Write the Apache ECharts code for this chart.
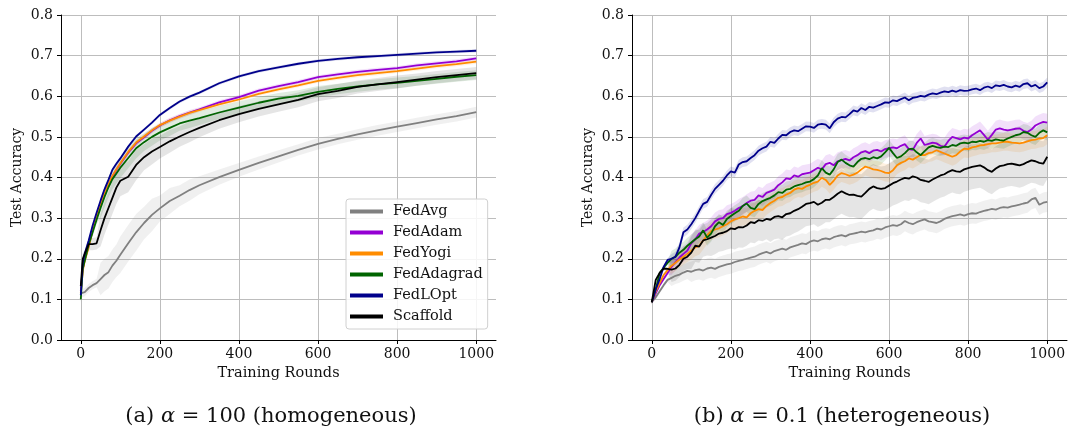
<!DOCTYPE html>
<html><head><meta charset="utf-8">
<script src="https://cdn.jsdelivr.net/npm/echarts@6/dist/echarts.min.js"></script>
<style>html,body{margin:0;padding:0;background:#fff}#c{width:1069px;height:433px}</style>
</head><body><div id="c"></div>
<script>
// ---------- DATA ----------
const names = ['FedAvg','FedAdam','FedYogi','FedAdagrad','FedLOpt','Scaffold'];
const colors = ['#808080','#9400d3','#ff8c00','#006400','#00008b','#000000'];
const xTicks = [0,200,400,600,800,1000];
const yTicks = [0,0.1,0.2,0.3,0.4,0.5,0.6,0.7,0.8];

// (a) alpha = 100
const roundsA = [0,5,10,20,30,40,50,60,70,80,90,100,120,140,160,180,200,225,250,275,300,350,400,450,500,550,600,650,700,750,800,850,900,950,1000];
const A_FedAvg = [0.115,0.116,0.118,0.128,0.135,0.140,0.150,0.160,0.167,0.183,0.195,0.210,0.238,0.265,0.288,0.308,0.324,0.342,0.355,0.369,0.381,0.401,0.419,0.436,0.452,0.468,0.483,0.495,0.506,0.516,0.525,0.534,0.543,0.551,0.561];
const A_FedAdam = [0.120,0.175,0.198,0.232,0.272,0.306,0.333,0.358,0.381,0.402,0.419,0.434,0.461,0.484,0.499,0.515,0.528,0.541,0.551,0.560,0.568,0.585,0.598,0.614,0.625,0.635,0.647,0.654,0.660,0.665,0.669,0.676,0.681,0.686,0.693];
const A_FedYogi = [0.115,0.170,0.195,0.228,0.270,0.305,0.334,0.360,0.383,0.404,0.420,0.435,0.463,0.486,0.501,0.516,0.529,0.540,0.550,0.559,0.566,0.580,0.592,0.606,0.617,0.627,0.638,0.645,0.652,0.657,0.662,0.668,0.674,0.679,0.685];
const A_FedAdagrad = [0.100,0.175,0.195,0.235,0.265,0.296,0.325,0.352,0.376,0.396,0.410,0.424,0.448,0.472,0.487,0.500,0.511,0.522,0.533,0.540,0.546,0.560,0.572,0.584,0.594,0.601,0.611,0.618,0.624,0.629,0.633,0.638,0.643,0.648,0.652];
const A_FedLOpt = [0.110,0.190,0.213,0.245,0.282,0.313,0.343,0.371,0.394,0.419,0.434,0.447,0.476,0.501,0.518,0.535,0.554,0.571,0.587,0.599,0.609,0.632,0.649,0.662,0.671,0.680,0.687,0.692,0.696,0.699,0.702,0.705,0.708,0.710,0.712];
const A_Scaffold = [0.133,0.200,0.203,0.236,0.236,0.238,0.270,0.300,0.325,0.350,0.375,0.392,0.402,0.431,0.450,0.464,0.475,0.489,0.501,0.512,0.522,0.541,0.556,0.569,0.580,0.591,0.605,0.613,0.623,0.629,0.635,0.641,0.647,0.652,0.657];

// half-width of shaded band, one value per 50-round block (0,50,...,1000)
const SA_FedAvg = [0.010,0.040,0.045,0.040,0.032,0.026,0.022,0.019,0.017,0.016,0.015,0.014,0.014,0.013,0.013,0.013,0.013,0.013,0.013,0.013,0.013];
const SA_FedAdam = [0.008,0.008,0.007,0.006,0.006,0.006,0.005,0.005,0.005,0.005,0.005,0.005,0.005,0.005,0.005,0.005,0.005,0.005,0.005,0.005,0.005];
const SA_FedYogi = [0.008,0.008,0.007,0.006,0.006,0.006,0.005,0.005,0.005,0.005,0.005,0.005,0.005,0.005,0.005,0.005,0.005,0.005,0.005,0.005,0.005];
const SA_FedAdagrad = [0.010,0.025,0.025,0.022,0.020,0.018,0.017,0.016,0.015,0.015,0.014,0.014,0.014,0.013,0.013,0.013,0.013,0.012,0.012,0.012,0.012];
const SA_FedLOpt = [0.005,0.005,0.004,0.004,0.004,0.004,0.004,0.004,0.004,0.004,0.004,0.004,0.004,0.004,0.004,0.004,0.004,0.004,0.004,0.004,0.004];
const SA_Scaffold = [0.015,0.040,0.038,0.032,0.028,0.025,0.023,0.021,0.020,0.019,0.018,0.018,0.017,0.017,0.016,0.016,0.016,0.015,0.015,0.015,0.015];

// (b) alpha = 0.1, every 10 rounds
const roundsB = []; for (let r = 0; r <= 1000; r += 10) roundsB.push(r);
const B_FedAvg = [0.094,0.105,0.120,0.135,0.148,0.153,0.158,0.161,0.166,0.170,
 0.168,0.172,0.174,0.171,0.176,0.178,0.175,0.180,0.183,0.186,
 0.188,0.192,0.195,0.197,0.200,0.203,0.205,0.210,0.214,0.217,
 0.213,0.219,0.222,0.225,0.222,0.228,0.231,0.234,0.238,0.236,
 0.242,0.245,0.243,0.248,0.250,0.248,0.253,0.256,0.258,0.255,
 0.260,0.262,0.264,0.267,0.265,0.268,0.270,0.274,0.272,0.277,
 0.280,0.283,0.281,0.285,0.293,0.288,0.285,0.290,0.294,0.297,
 0.292,0.290,0.288,0.292,0.298,0.302,0.305,0.307,0.309,0.306,
 0.310,0.312,0.311,0.315,0.318,0.320,0.323,0.321,0.325,0.327,
 0.326,0.329,0.331,0.333,0.336,0.338,0.346,0.350,0.333,0.338,
 0.340];
const B_FedAdam = [0.093,0.115,0.135,0.150,0.165,0.180,0.192,0.203,0.212,0.220,
 0.238,0.248,0.262,0.266,0.272,0.280,0.292,0.298,0.300,0.310,
 0.313,0.318,0.325,0.330,0.337,0.343,0.345,0.356,0.352,0.362,
 0.366,0.370,0.381,0.388,0.398,0.396,0.405,0.402,0.408,0.410,
 0.412,0.418,0.424,0.420,0.433,0.436,0.430,0.440,0.443,0.446,
 0.442,0.450,0.455,0.462,0.465,0.460,0.466,0.468,0.464,0.470,
 0.472,0.474,0.472,0.478,0.482,0.470,0.468,0.485,0.496,0.480,
 0.483,0.486,0.484,0.478,0.476,0.490,0.500,0.497,0.494,0.498,
 0.496,0.504,0.510,0.516,0.505,0.493,0.505,0.518,0.521,0.518,
 0.516,0.518,0.520,0.521,0.515,0.512,0.518,0.528,0.533,0.537,
 0.535];
const B_FedYogi = [0.093,0.120,0.140,0.160,0.172,0.183,0.190,0.198,0.205,0.212,
 0.220,0.228,0.232,0.245,0.258,0.268,0.272,0.275,0.280,0.285,
 0.292,0.297,0.300,0.304,0.302,0.312,0.318,0.322,0.320,0.330,
 0.337,0.343,0.350,0.352,0.358,0.362,0.370,0.374,0.372,0.378,
 0.382,0.387,0.390,0.399,0.394,0.382,0.392,0.405,0.411,0.408,
 0.404,0.407,0.412,0.420,0.427,0.424,0.420,0.419,0.416,0.412,
 0.411,0.418,0.430,0.436,0.440,0.447,0.444,0.450,0.456,0.455,
 0.460,0.462,0.467,0.463,0.459,0.455,0.451,0.455,0.464,0.471,
 0.470,0.474,0.476,0.479,0.480,0.482,0.484,0.484,0.486,0.488,
 0.488,0.486,0.485,0.484,0.486,0.489,0.492,0.493,0.496,0.497,
 0.504];
const B_FedAdagrad = [0.093,0.125,0.165,0.178,0.190,0.200,0.205,0.215,0.222,0.232,
 0.240,0.248,0.255,0.270,0.252,0.262,0.280,0.290,0.283,0.298,
 0.305,0.312,0.318,0.330,0.336,0.325,0.322,0.335,0.342,0.346,
 0.350,0.356,0.364,0.362,0.370,0.372,0.378,0.381,0.384,0.388,
 0.390,0.396,0.405,0.423,0.412,0.407,0.420,0.438,0.444,0.436,
 0.430,0.427,0.438,0.446,0.448,0.445,0.450,0.447,0.452,0.462,
 0.473,0.460,0.448,0.452,0.460,0.470,0.471,0.462,0.455,0.465,
 0.474,0.478,0.475,0.473,0.476,0.475,0.480,0.478,0.484,0.486,
 0.484,0.488,0.487,0.490,0.488,0.492,0.490,0.494,0.492,0.491,
 0.496,0.500,0.504,0.506,0.512,0.510,0.504,0.500,0.510,0.516,
 0.511];
const B_FedLOpt = [0.093,0.125,0.150,0.180,0.197,0.200,0.205,0.228,0.265,0.272,
 0.285,0.300,0.318,0.335,0.340,0.357,0.372,0.382,0.392,0.405,
 0.415,0.412,0.432,0.438,0.440,0.448,0.455,0.466,0.472,0.476,
 0.488,0.485,0.496,0.505,0.504,0.512,0.516,0.514,0.520,0.526,
 0.525,0.522,0.530,0.532,0.530,0.521,0.536,0.545,0.549,0.548,
 0.556,0.565,0.562,0.571,0.566,0.574,0.572,0.576,0.580,0.585,
 0.584,0.590,0.588,0.593,0.597,0.590,0.596,0.598,0.601,0.599,
 0.604,0.607,0.605,0.609,0.612,0.610,0.614,0.611,0.615,0.613,
 0.614,0.617,0.619,0.615,0.621,0.624,0.620,0.627,0.625,0.628,
 0.624,0.622,0.626,0.623,0.630,0.632,0.624,0.628,0.620,0.624,
 0.634];
const B_Scaffold = [0.093,0.148,0.165,0.176,0.175,0.173,0.176,0.185,0.200,0.205,
 0.215,0.232,0.230,0.245,0.248,0.252,0.256,0.262,0.264,0.268,
 0.275,0.273,0.278,0.277,0.282,0.290,0.288,0.295,0.293,0.298,
 0.296,0.303,0.305,0.302,0.310,0.312,0.318,0.322,0.328,0.335,
 0.337,0.340,0.333,0.338,0.345,0.345,0.352,0.360,0.366,0.361,
 0.357,0.358,0.355,0.353,0.362,0.372,0.378,0.374,0.372,0.374,
 0.380,0.386,0.390,0.395,0.399,0.397,0.403,0.400,0.394,0.392,
 0.389,0.395,0.400,0.405,0.408,0.414,0.418,0.415,0.414,0.420,
 0.423,0.426,0.428,0.430,0.425,0.418,0.414,0.422,0.428,0.430,
 0.433,0.434,0.432,0.430,0.433,0.438,0.442,0.440,0.436,0.434,
 0.451];

const SB_FedAvg = [0.005,0.020,0.025,0.025,0.025,0.025,0.025,0.025,0.025,0.025,0.025,0.025,0.025,0.025,0.025,0.025,0.025,0.025,0.025,0.025,0.025];
const SB_FedAdam = [0.005,0.020,0.022,0.022,0.022,0.022,0.022,0.022,0.022,0.022,0.022,0.022,0.022,0.022,0.022,0.022,0.022,0.022,0.022,0.022,0.022];
const SB_FedYogi = [0.005,0.020,0.022,0.022,0.022,0.022,0.022,0.022,0.022,0.022,0.022,0.022,0.022,0.022,0.022,0.022,0.022,0.022,0.022,0.022,0.022];
const SB_FedAdagrad = [0.005,0.020,0.020,0.020,0.020,0.020,0.020,0.020,0.020,0.020,0.020,0.020,0.020,0.020,0.020,0.020,0.020,0.020,0.020,0.020,0.020];
const SB_FedLOpt = [0.005,0.012,0.012,0.012,0.012,0.012,0.012,0.012,0.012,0.012,0.012,0.012,0.012,0.012,0.012,0.012,0.012,0.012,0.012,0.012,0.012];
const SB_Scaffold = [0.005,0.030,0.040,0.045,0.050,0.050,0.055,0.055,0.055,0.055,0.055,0.055,0.055,0.055,0.055,0.055,0.055,0.055,0.055,0.055,0.055];

const captionA = '(a) {i|α} = 100 (homogeneous)';
const captionB = '(b) {i|α} = 0.1 (heterogeneous)';

// ---------- CHART ----------
const serif = 'DejaVu Serif';
const txt = '#111';
const plots = [
  {rounds: roundsA, vals: [A_FedAvg,A_FedAdam,A_FedYogi,A_FedAdagrad,A_FedLOpt,A_Scaffold],
   spreads: [SA_FedAvg,SA_FedAdam,SA_FedYogi,SA_FedAdagrad,SA_FedLOpt,SA_Scaffold]},
  {rounds: roundsB, vals: [B_FedAvg,B_FedAdam,B_FedYogi,B_FedAdagrad,B_FedLOpt,B_Scaffold],
   spreads: [SB_FedAvg,SB_FedAdam,SB_FedYogi,SB_FedAdagrad,SB_FedLOpt,SB_Scaffold]}
];
const grids = [
  {left: 61, width: 435, top: 15, height: 325},
  {left: 632, width: 435, top: 15, height: 325}
];
function xAx(i){ return {
  type:'value', gridIndex:i, min:-50, max:1050,
  axisLine:{show:true, onZero:false, lineStyle:{color:'#000', width:1}},
  axisTick:{show:true, length:4, inside:false, customValues:xTicks, lineStyle:{color:'#000', width:1}},
  axisLabel:{customValues:xTicks, fontFamily:serif, fontSize:14, color:txt, margin:7, formatter:v=>String(v)},
  splitLine:{show:true, lineStyle:{color:'#bdbdbd', width:1}},
  name:'Training Rounds', nameLocation:'middle', nameGap:26,
  nameTextStyle:{fontFamily:serif, fontSize:14.5, color:txt}
};}
function yAx(i){ return {
  type:'value', gridIndex:i, min:0, max:0.8, interval:0.1,
  axisLine:{show:true, onZero:false, lineStyle:{color:'#000', width:1}},
  axisTick:{show:true, length:4, inside:false, lineStyle:{color:'#000', width:1}},
  axisLabel:{fontFamily:serif, fontSize:14, color:txt, margin:8, formatter:v=>v.toFixed(1)},
  splitLine:{show:true, lineStyle:{color:'#bdbdbd', width:1}},
  name:'Test Accuracy', nameLocation:'middle', nameGap:37,
  nameTextStyle:{fontFamily:serif, fontSize:14, color:txt}
};}
const series = [];
plots.forEach((p, gi) => {
  p.vals.forEach((vals, si) => {
    const sp = p.spreads[si];
    const rounds = p.rounds;
    series.push({
      type:'custom', xAxisIndex:gi, yAxisIndex:gi, z:1, silent:true,
      data:[[0,0]], clip:true,
      renderItem:(params, api) => {
        const up = [], lo = [];
        for (let k = 0; k < rounds.length; k++) {
          const s = sp[Math.min(20, Math.floor(rounds[k]/50))];
          up.push(api.coord([rounds[k], vals[k] + s]));
          lo.push(api.coord([rounds[k], vals[k] - s]));
        }
        return {type:'polygon', shape:{points: up.concat(lo.reverse())},
          style:{fill: colors[si], opacity: si === 5 ? 0.10 : 0.12}};
      }
    });
  });
  p.vals.forEach((vals, si) => {
    series.push({
      type:'line', name:names[si], xAxisIndex:gi, yAxisIndex:gi, z:3,
      data: p.rounds.map((r,k)=>[r, vals[k]]),
      symbol:'none', showSymbol:false, smooth:false,
      lineStyle:{color:colors[si], width:1.8},
      itemStyle:{color:colors[si]}
    });
  });
});
const chart = echarts.init(document.getElementById('c'), null, {renderer:'canvas'});
const capStyle = (t) => ({text:t, textAlign:'center', textVerticalAlign:'middle',
  font:'21px "DejaVu Serif"', fill:'#111',
  rich:{i:{fontStyle:'italic', fontFamily:'DejaVu Serif', fontSize:21, fill:'#111'}}});
chart.setOption({
  animation:false,
  backgroundColor:'#fff',
  grid: grids,
  xAxis:[xAx(0), xAx(1)],
  yAxis:[yAx(0), yAx(1)],
  legend:{
    data:names, orient:'vertical', left:346, top:199,
    icon:'rect', itemWidth:33, itemHeight:4, itemGap:4,
    padding:[4,5,4,4],
    backgroundColor:'rgba(255,255,255,0.85)', borderColor:'#d0d0d0', borderWidth:1, borderRadius:3,
    textStyle:{fontFamily:serif, fontSize:14.5, color:txt, lineHeight:17, padding:[0,0,0,5]},
    selectedMode:false
  },
  graphic:[
    {type:'text', x:271, y:417, style:capStyle(captionA)},
    {type:'text', x:842, y:417, style:capStyle(captionB)}
  ],
  series: series
});
</script></body></html>
